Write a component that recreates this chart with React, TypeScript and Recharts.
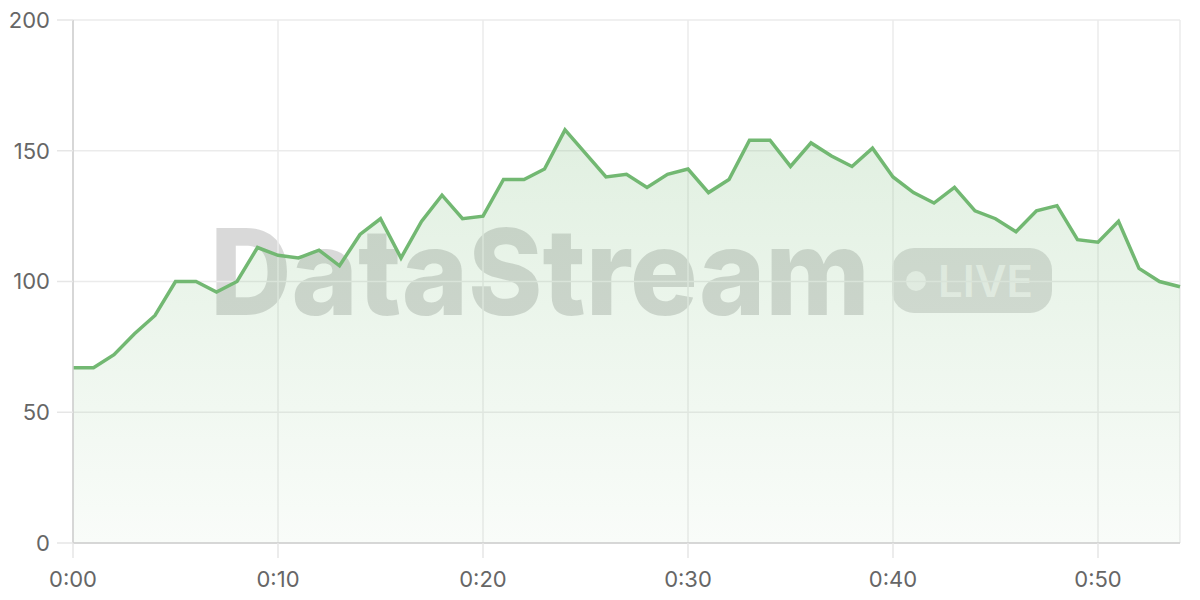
import React from 'react';
import { AreaChart, Area, XAxis, YAxis, CartesianGrid } from 'recharts';

const timeLabels = [
  '0:00', '0:01', '0:02', '0:03', '0:04', '0:05', '0:06', '0:07', '0:08', '0:09',
  '0:10', '0:11', '0:12', '0:13', '0:14', '0:15', '0:16', '0:17', '0:18', '0:19',
  '0:20', '0:21', '0:22', '0:23', '0:24', '0:25', '0:26', '0:27', '0:28', '0:29',
  '0:30', '0:31', '0:32', '0:33', '0:34', '0:35', '0:36', '0:37', '0:38', '0:39',
  '0:40', '0:41', '0:42', '0:43', '0:44', '0:45', '0:46', '0:47', '0:48', '0:49',
  '0:50', '0:51', '0:52', '0:53', '0:54',
];

const viewers = [
  67, 67, 72, 80, 87, 100, 100, 96, 100, 113,
  110, 109, 112, 106, 118, 124, 109, 123, 133, 124,
  125, 139, 139, 143, 158, 149, 140, 141, 136, 141,
  143, 134, 139, 154, 154, 144, 153, 148, 144, 151,
  140, 134, 130, 136, 127, 124, 119, 127, 129, 116,
  115, 123, 105, 100, 98,
];

const yTicks = [0, 50, 100, 150, 200];

const data = timeLabels.map((time, i) => ({ time, value: viewers[i] }));

const tickStyle = { fill: '#666', fontSize: 22, fontFamily: 'Inter, sans-serif' };

const Watermark: React.FC = () => (
  <svg width={1200} height={600} style={{ position: 'absolute', left: 0, top: 0 }}>
    <text
      x={210}
      y={315}
      fontSize={120}
      fontWeight={800}
      fontFamily="Inter, sans-serif"
      fill="rgba(0,0,0,0.15)"
      textLength={660}
      lengthAdjust="spacingAndGlyphs"
    >
      DataStream
    </text>
    <rect x={892} y={248} width={160} height={65} rx={22} fill="rgba(0,0,0,0.13)" />
    <circle cx={916} cy={281} r={10} fill="rgba(255,255,255,0.65)" />
    <text
      x={938}
      y={297}
      fontSize={44}
      fontWeight={600}
      fontFamily="Inter, sans-serif"
      fill="rgba(255,255,255,0.65)"
      textLength={95}
      lengthAdjust="spacingAndGlyphs"
    >
      LIVE
    </text>
  </svg>
);

export default function App() {
  return (
    <div style={{ position: 'absolute', left: 0, top: 0, width: 1200, height: 600, background: '#fff' }}>
      <Watermark />
      <div style={{ position: 'absolute', left: 0, top: 0 }}>
        <AreaChart width={1200} height={600} data={data} margin={{ top: 20, right: 20, left: 13, bottom: 0 }}>
          <defs>
            <linearGradient id="fillGreen" x1="0" y1="0" x2="0" y2="1">
              <stop offset="0%" stopColor="#72b872" stopOpacity={0.36} />
              <stop offset="100%" stopColor="#72b872" stopOpacity={0.07} />
            </linearGradient>
          </defs>
          <CartesianGrid stroke="#ebebeb" strokeWidth={1.5} />
          <XAxis
            dataKey="time"
            interval={9}
            height={57}
            tickSize={15}
            tickMargin={13}
            tick={tickStyle}
            axisLine={{ stroke: '#cfcfcf', strokeWidth: 1.5 }}
            tickLine={{ stroke: '#e6e6e6', strokeWidth: 1.5 }}
          />
          <YAxis
            domain={[0, 200]}
            ticks={yTicks}
            width={60}
            tickSize={16}
            tickMargin={7}
            tick={tickStyle}
            axisLine={{ stroke: '#cfcfcf', strokeWidth: 1.5 }}
            tickLine={{ stroke: '#e6e6e6', strokeWidth: 1.5 }}
          />
          <Area
            type="linear"
            dataKey="value"
            stroke="#72b872"
            strokeWidth={3.5}
            fill="url(#fillGreen)"
            dot={false}
            activeDot={false}
            isAnimationActive={false}
          />
        </AreaChart>
      </div>
    </div>
  );
}
